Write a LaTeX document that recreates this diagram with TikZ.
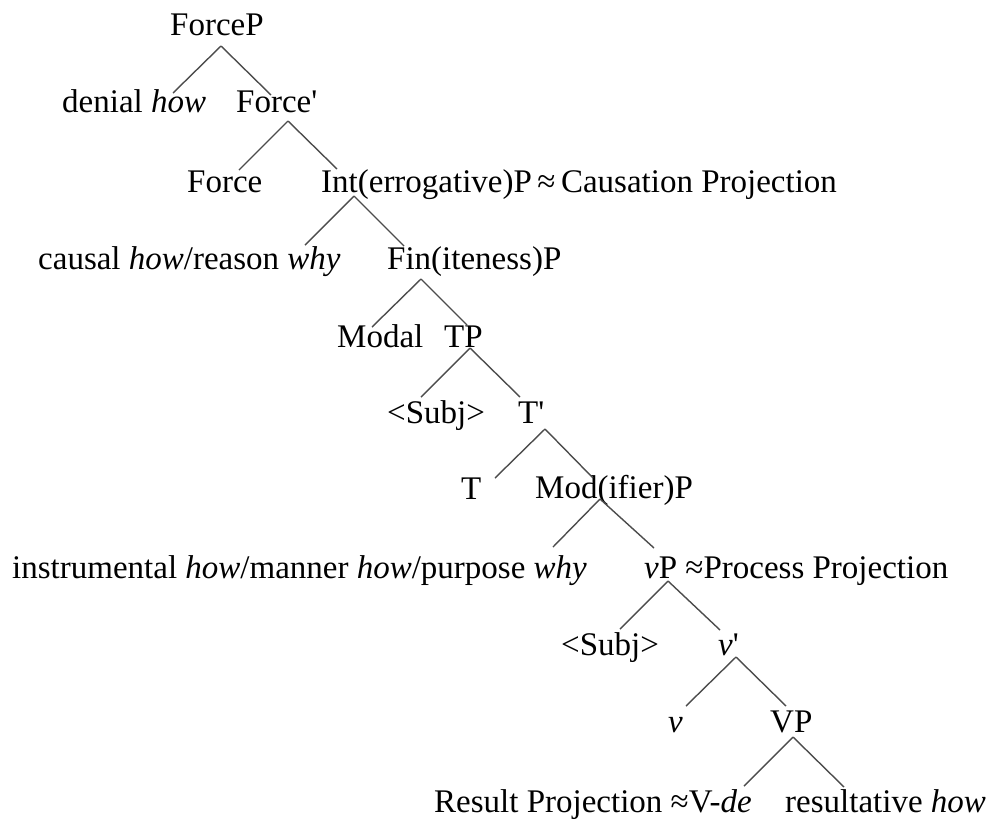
\documentclass[tikz,border=0pt]{standalone}
\usepackage{fontspec}
\setmainfont{Liberation Serif}[Ligatures=TeXOff]
\begin{document}
\begin{tikzpicture}[x=1pt, y=-1pt, font=\fontsize{33}{40}\selectfont,
    lbl/.style = {anchor=base west, inner sep=0pt},
    branch/.style = {line width=1.4pt, black!70}]
  \useasboundingbox (0,0) rectangle (990,820);
  % labels
  \node[lbl] (forcep) at (170,35) {ForceP};
  \node[lbl] (denial) at (62,112) {denial \textit{how}};
  \node[lbl] (forcebar) at (236,112) {Force'};
  \node[lbl] (force) at (187,192) {Force};
  \node[lbl] (intp) at (321,192) {Int(errogative)P\,≈\,Causation Projection};
  \node[lbl] (causal) at (38,269) {causal \textit{how}/reason \textit{why}};
  \node[lbl] (finp) at (387,269) {Fin(iteness)P};
  \node[lbl] (modal) at (337,347) {Modal};
  \node[lbl] (tp) at (444,347) {TP};
  \node[lbl] (subja) at (387,423) {<Subj>};
  \node[lbl] (tbar) at (518,423) {T'};
  \node[lbl] (t) at (461,499) {T};
  \node[lbl] (modp) at (535,498) {Mod(ifier)P};
  \node[lbl] (instr) at (12,578) {instrumental \textit{how}/manner \textit{how}/purpose \textit{why}};
  \node[lbl] (vp) at (644,578) {\textit{v}P ≈Process Projection};
  \node[lbl] (subjb) at (561,655) {<Subj>};
  \node[lbl] (vbar) at (718,655) {\textit{v}'};
  \node[lbl] (v) at (668,732) {\textit{v}};
  \node[lbl] (bigvp) at (770,732) {VP};
  \node[lbl] (result) at (434,812) {Result Projection ≈V-\textit{de}};
  \node[lbl] (resultative) at (785,812) {resultative \textit{how}};
  % branch points and branch ends
  \coordinate (forcep-b) at (221,46);
  \coordinate (denial-t) at (173,93);
  \coordinate (forcebar-t) at (271,95);
  \coordinate (forcebar-b) at (288,121);
  \coordinate (force-t) at (239,170);
  \coordinate (intp-t) at (337,169);
  \coordinate (intp-b) at (354,196);
  \coordinate (causal-t) at (305,245);
  \coordinate (finp-t) at (404,246);
  \coordinate (finp-b) at (421,279);
  \coordinate (modal-t) at (372,327);
  \coordinate (tp-t) at (467,325);
  \coordinate (tp-b) at (470,348);
  \coordinate (subja-t) at (421,397);
  \coordinate (tbar-t) at (520,397);
  \coordinate (tbar-b) at (545,429);
  \coordinate (t-t) at (495,478);
  \coordinate (modp-t) at (593,478);
  \coordinate (modp-b) at (600,499);
  \coordinate (instr-t) at (553,547);
  \coordinate (vp-t) at (654,548);
  \coordinate (vp-b) at (668,581);
  \coordinate (subjb-t) at (620,629);
  \coordinate (vbar-t) at (720,630);
  \coordinate (vbar-b) at (736,657);
  \coordinate (v-t) at (686,706);
  \coordinate (bigvp-t) at (786,706);
  \coordinate (bigvp-b) at (793,737);
  \coordinate (result-t) at (744,786);
  \coordinate (resultative-t) at (844,787);
  % branches
  \foreach \p/\l/\r in {forcep/denial/forcebar, forcebar/force/intp,
      intp/causal/finp, finp/modal/tp, tp/subja/tbar, tbar/t/modp,
      modp/instr/vp, vp/subjb/vbar, vbar/v/bigvp, bigvp/result/resultative}
    {\draw[branch] (\p-b) -- (\l-t);
     \draw[branch] (\p-b) -- (\r-t);}
\end{tikzpicture}
\end{document}
